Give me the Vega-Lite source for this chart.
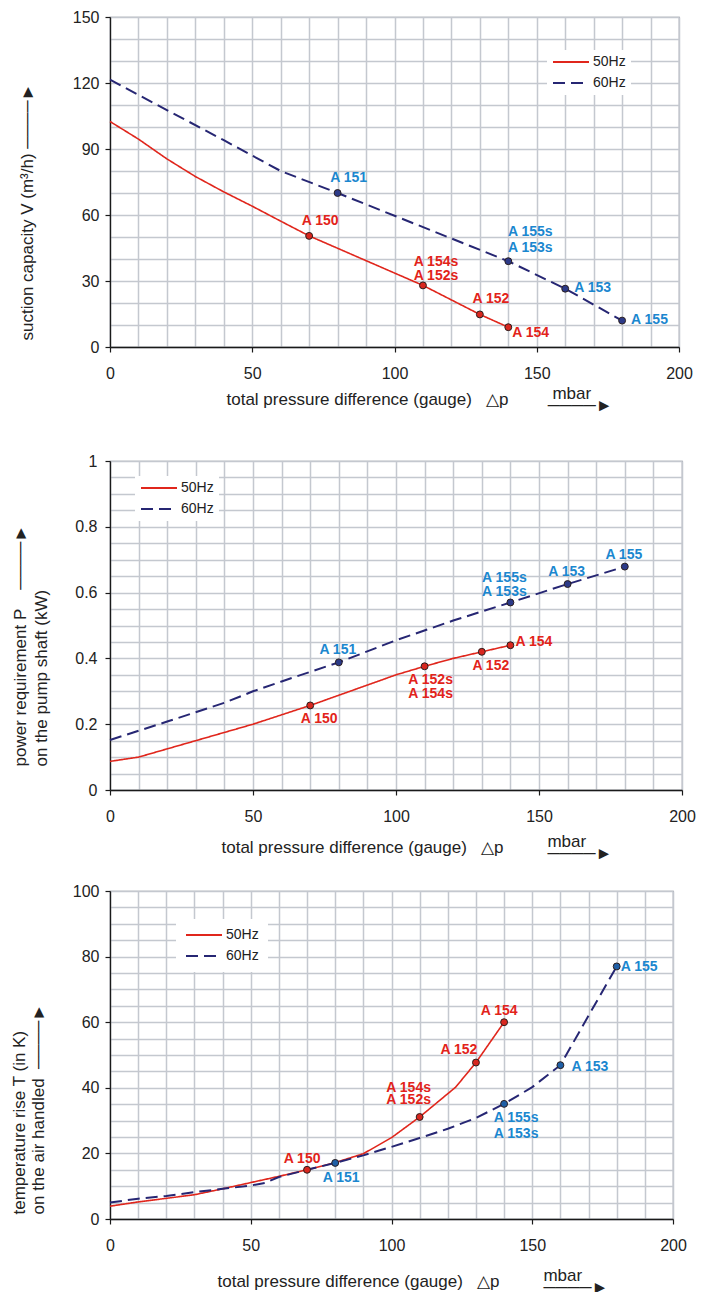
{
  "$schema": "https://vega.github.io/schema/vega-lite/v6.json",
  "padding": {"left": 9, "top": 8, "right": 5, "bottom": 2},
  "spacing": 20,
  "resolve": {
    "scale": {"color": "independent", "strokeDash": "independent"},
    "legend": {"color": "independent", "strokeDash": "independent"}
  },
  "config": {
    "font": "Liberation Sans",
    "view": {"stroke": "#8b9097", "strokeWidth": 1.2},
    "axis": {
      "domainColor": "#1a1a1a", "domainWidth": 1.3, "tickColor": "#1a1a1a", "tickWidth": 1.2, "tickSize": 5,
      "labelFont": "Liberation Sans", "labelFontSize": 16, "labelColor": "#222",
      "titleFont": "Liberation Sans", "titleFontSize": 17, "titleFontWeight": "normal", "titleColor": "#222",
      "gridColor": "#c4c8cf", "gridWidth": 1.5, "labelOverlap": false, "labelFlush": false
    },
    "legend": {"labelFont": "Liberation Sans", "labelFontSize": 14, "labelColor": "#222"}
  },
  "datasets": {
    "cap_lines": [
      {"p": 0, "v": 102.5, "series": "50Hz"}, {"p": 10, "v": 94.5, "series": "50Hz"}, {"p": 20, "v": 85.5, "series": "50Hz"},
      {"p": 30, "v": 77.5, "series": "50Hz"}, {"p": 40, "v": 70.5, "series": "50Hz"}, {"p": 50, "v": 64, "series": "50Hz"},
      {"p": 60, "v": 57.2, "series": "50Hz"}, {"p": 70, "v": 50.5, "series": "50Hz"}, {"p": 110, "v": 28, "series": "50Hz"},
      {"p": 130, "v": 14.8, "series": "50Hz"}, {"p": 140, "v": 9, "series": "50Hz"},
      {"p": 0, "v": 121.5, "series": "60Hz"}, {"p": 20, "v": 107.7, "series": "60Hz"}, {"p": 40, "v": 94, "series": "60Hz"},
      {"p": 60, "v": 80, "series": "60Hz"}, {"p": 80, "v": 70, "series": "60Hz"}, {"p": 140, "v": 39, "series": "60Hz"},
      {"p": 160, "v": 26.5, "series": "60Hz"}, {"p": 180, "v": 12, "series": "60Hz"}
    ],
    "cap_pts": [
      {"p": 70, "v": 50.5, "series": "50Hz", "label": "A 150", "pos": "NE"},
      {"p": 110, "v": 28, "series": "50Hz", "label": "A 154s\nA 152s", "pos": "NE2"},
      {"p": 130, "v": 14.8, "series": "50Hz", "label": "A 152", "pos": "NE"},
      {"p": 140, "v": 9, "series": "50Hz", "label": "A 154", "pos": "SE"},
      {"p": 80, "v": 70, "series": "60Hz", "label": "A 151", "pos": "NE"},
      {"p": 140, "v": 39, "series": "60Hz", "label": "A 155s\nA 153s", "pos": "NE3"},
      {"p": 160, "v": 26.5, "series": "60Hz", "label": "A 153", "pos": "E"},
      {"p": 180, "v": 12, "series": "60Hz", "label": "A 155", "pos": "E"}
    ],
    "pow_lines": [
      {"p": 0, "v": 0.087, "series": "50Hz"}, {"p": 10, "v": 0.1, "series": "50Hz"}, {"p": 30, "v": 0.15, "series": "50Hz"},
      {"p": 50, "v": 0.2, "series": "50Hz"}, {"p": 70, "v": 0.257, "series": "50Hz"}, {"p": 100, "v": 0.35, "series": "50Hz"},
      {"p": 110, "v": 0.376, "series": "50Hz"}, {"p": 120, "v": 0.4, "series": "50Hz"}, {"p": 130, "v": 0.42, "series": "50Hz"},
      {"p": 140, "v": 0.44, "series": "50Hz"},
      {"p": 0, "v": 0.152, "series": "60Hz"}, {"p": 20, "v": 0.208, "series": "60Hz"}, {"p": 40, "v": 0.265, "series": "60Hz"},
      {"p": 50, "v": 0.3, "series": "60Hz"}, {"p": 60, "v": 0.33, "series": "60Hz"}, {"p": 80, "v": 0.388, "series": "60Hz"},
      {"p": 100, "v": 0.455, "series": "60Hz"}, {"p": 120, "v": 0.515, "series": "60Hz"}, {"p": 140, "v": 0.57, "series": "60Hz"},
      {"p": 160, "v": 0.626, "series": "60Hz"}, {"p": 180, "v": 0.679, "series": "60Hz"}
    ],
    "pow_pts": [
      {"p": 70, "v": 0.257, "series": "50Hz", "label": "A 150", "pos": "S"},
      {"p": 110, "v": 0.376, "series": "50Hz", "label": "A 152s\nA 154s", "pos": "S2"},
      {"p": 130, "v": 0.42, "series": "50Hz", "label": "A 152", "pos": "S"},
      {"p": 140, "v": 0.44, "series": "50Hz", "label": "A 154", "pos": "E"},
      {"p": 80, "v": 0.388, "series": "60Hz", "label": "A 151", "pos": "N"},
      {"p": 140, "v": 0.57, "series": "60Hz", "label": "A 155s\nA 153s", "pos": "N2"},
      {"p": 160, "v": 0.626, "series": "60Hz", "label": "A 153", "pos": "N"},
      {"p": 180, "v": 0.679, "series": "60Hz", "label": "A 155", "pos": "N"}
    ],
    "temp_lines": [
      {"p": 0, "v": 3.9, "series": "50Hz"}, {"p": 10, "v": 5.2, "series": "50Hz"}, {"p": 20, "v": 6.3, "series": "50Hz"},
      {"p": 30, "v": 7.4, "series": "50Hz"}, {"p": 40, "v": 9.2, "series": "50Hz"}, {"p": 50, "v": 11.1, "series": "50Hz"},
      {"p": 60, "v": 13, "series": "50Hz"}, {"p": 70, "v": 15, "series": "50Hz"}, {"p": 80, "v": 17.2, "series": "50Hz"},
      {"p": 90, "v": 19.9, "series": "50Hz"}, {"p": 100, "v": 24.8, "series": "50Hz"}, {"p": 110, "v": 31.1, "series": "50Hz"},
      {"p": 122.8, "v": 40.2, "series": "50Hz"}, {"p": 130, "v": 47.7, "series": "50Hz"}, {"p": 140, "v": 60, "series": "50Hz"},
      {"p": 0, "v": 5, "series": "60Hz"}, {"p": 10, "v": 6.2, "series": "60Hz"}, {"p": 20, "v": 7, "series": "60Hz"},
      {"p": 30, "v": 8.2, "series": "60Hz"}, {"p": 40, "v": 9.2, "series": "60Hz"}, {"p": 50, "v": 10.2, "series": "60Hz"},
      {"p": 55, "v": 11, "series": "60Hz"}, {"p": 60, "v": 12.8, "series": "60Hz"}, {"p": 70, "v": 15, "series": "60Hz"},
      {"p": 80, "v": 17.1, "series": "60Hz"}, {"p": 90, "v": 19.4, "series": "60Hz"}, {"p": 100, "v": 22, "series": "60Hz"},
      {"p": 110, "v": 24.7, "series": "60Hz"}, {"p": 120, "v": 27.5, "series": "60Hz"}, {"p": 130, "v": 30.8, "series": "60Hz"},
      {"p": 140, "v": 35.1, "series": "60Hz"}, {"p": 150, "v": 40.2, "series": "60Hz"}, {"p": 160, "v": 46.9, "series": "60Hz"},
      {"p": 170, "v": 62, "series": "60Hz"}, {"p": 180, "v": 77, "series": "60Hz"}
    ],
    "temp_pts": [
      {"p": 70, "v": 15, "series": "50Hz", "label": "A 150", "pos": "N"},
      {"p": 110, "v": 31.1, "series": "50Hz", "label": "A 154s\nA 152s", "pos": "NW2"},
      {"p": 130, "v": 47.7, "series": "50Hz", "label": "A 152", "pos": "NW"},
      {"p": 140, "v": 60, "series": "50Hz", "label": "A 154", "pos": "N"},
      {"p": 80, "v": 17.1, "series": "60Hz", "label": "A 151", "pos": "SE"},
      {"p": 140, "v": 35.1, "series": "60Hz", "label": "A 155s\nA 153s", "pos": "SE2"},
      {"p": 160, "v": 46.9, "series": "60Hz", "label": "A 153", "pos": "E"},
      {"p": 180, "v": 77, "series": "60Hz", "label": "A 155", "pos": "E0"}
    ]
  },
  "vconcat": [
    {
      "width": 569, "height": 330,
      "encoding": {
        "x": {"field": "p", "type": "quantitative", "scale": {"domain": [0, 200], "nice": false},
          "axis": {"values": [0,10,20,30,40,50,60,70,80,90,100,110,120,130,140,150,160,170,180,190,200],
            "labelExpr": "datum.value % 50 === 0 ? datum.label : ''",
            "tickOpacity": {"condition": {"test": "datum.value % 50 === 0", "value": 1}, "value": 0},
            "labelPadding": 13,
            "title": ["\u200b\u00a0\u00a0\u00a0\u00a0\u00a0\u00a0\u00a0\u00a0\u00a0\u00a0\u00a0\u00a0\u00a0\u00a0\u00a0\u00a0\u00a0\u00a0\u00a0\u00a0\u00a0\u00a0\u00a0\u00a0\u00a0\u00a0\u00a0\u00a0\u00a0\u00a0\u00a0\u00a0\u00a0\u00a0\u00a0\u00a0\u00a0\u00a0\u00a0\u00a0\u00a0\u00a0\u00a0\u00a0\u00a0\u00a0\u00a0\u00a0\u00a0\u00a0\u00a0\u00a0\u00a0\u00a0\u00a0\u00a0\u00a0\u00a0\u00a0\u00a0\u00a0\u00a0\u00a0\u00a0\u00a0\u00a0\u00a0\u00a0\u00a0mbar",
                      "total pressure difference (gauge)\u00a0\u00a0\u00a0△p",
                      "\u200b\u00a0\u00a0\u00a0\u00a0\u00a0\u00a0\u00a0\u00a0\u00a0\u00a0\u00a0\u00a0\u00a0\u00a0\u00a0\u00a0\u00a0\u00a0\u00a0\u00a0\u00a0\u00a0\u00a0\u00a0\u00a0\u00a0\u00a0\u00a0\u00a0\u00a0\u00a0\u00a0\u00a0\u00a0\u00a0\u00a0\u00a0\u00a0\u00a0\u00a0\u00a0\u00a0\u00a0\u00a0\u00a0\u00a0\u00a0\u00a0\u00a0\u00a0\u00a0\u00a0\u00a0\u00a0\u00a0\u00a0\u00a0\u00a0\u00a0\u00a0\u00a0\u00a0\u00a0\u00a0\u00a0\u00a0\u00a0\u00a0────►",
                      "\u00a0", "\u00a0", "\u00a0"],
            "titleAlign": "left", "titleBaseline": "top", "titleX": 116, "titleY": 38, "titleLineHeight": 6}},
        "y": {"field": "v", "type": "quantitative", "scale": {"domain": [0, 150], "nice": false},
          "axis": {"values": [0,10,20,30,40,50,60,70,80,90,100,110,120,130,140,150],
            "labelExpr": "datum.value % 30 === 0 ? datum.label : ''",
            "tickOpacity": {"condition": {"test": "datum.value % 30 === 0", "value": 1}, "value": 0},
            "labelPadding": 6,
            "title": "suction capacity V (m³/h) ────►",
            "titleAngle": -90, "titleAlign": "left", "titleBaseline": "middle", "titleX": -83, "titleY": 323}}
      },
      "layer": [
        {"data": {"name": "cap_lines"}, "mark": {"type": "line"},
          "encoding": {
            "color": {"field": "series", "type": "nominal", "scale": {"domain": ["50Hz", "60Hz"], "range": ["#e0261c", "#262673"]},
              "legend": {"title": null, "orient": "none", "legendX": 437, "legendY": 33, "fillColor": "white", "padding": 5,
                "symbolType": "M-1,0H5", "symbolSize": 144, "symbolStrokeWidth": 2, "labelFontSize": 14, "rowPadding": 7, "labelOffset": 27}},
            "strokeDash": {"field": "series", "type": "nominal", "scale": {"domain": ["50Hz", "60Hz"], "range": [[1, 0], [12, 6]]}},
            "strokeWidth": {"condition": {"test": "datum.series === '60Hz'", "value": 2}, "value": 1.6}}},
        {"data": {"name": "cap_pts"}, "mark": {"type": "point", "filled": true, "size": 48, "stroke": "#2a1e1e", "strokeWidth": 1, "opacity": 1},
          "encoding": {"fill": {"condition": {"test": "datum.series === '50Hz'", "value": "#d8271f"}, "value": "#2c3a88"}}},
        {"data": {"name": "cap_pts"}, "transform": [{"filter": "datum.pos === 'NE'"}],
          "mark": {"type": "text", "align": "center", "baseline": "middle", "dx": 11, "dy": -15, "fontSize": 14, "fontWeight": "bold", "lineBreak": "\n", "lineHeight": 15},
          "encoding": {"text": {"field": "label"}, "color": {"condition": {"test": "datum.series === '50Hz'", "value": "#e2231a"}, "value": "#1b87cf"}}},
        {"data": {"name": "cap_pts"}, "transform": [{"filter": "datum.pos === 'NE2'"}],
          "mark": {"type": "text", "align": "center", "baseline": "middle", "dx": 13, "dy": -23, "fontSize": 14, "fontWeight": "bold", "lineBreak": "\n", "lineHeight": 14},
          "encoding": {"text": {"field": "label"}, "color": {"condition": {"test": "datum.series === '50Hz'", "value": "#e2231a"}, "value": "#1b87cf"}}},
        {"data": {"name": "cap_pts"}, "transform": [{"filter": "datum.pos === 'NE3'"}],
          "mark": {"type": "text", "align": "center", "baseline": "middle", "dx": 22, "dy": -29, "fontSize": 14, "fontWeight": "bold", "lineBreak": "\n", "lineHeight": 16},
          "encoding": {"text": {"field": "label"}, "color": {"condition": {"test": "datum.series === '50Hz'", "value": "#e2231a"}, "value": "#1b87cf"}}},
        {"data": {"name": "cap_pts"}, "transform": [{"filter": "datum.pos === 'E'"}],
          "mark": {"type": "text", "align": "left", "baseline": "middle", "dx": 9, "dy": -1, "fontSize": 14, "fontWeight": "bold", "lineBreak": "\n", "lineHeight": 15},
          "encoding": {"text": {"field": "label"}, "color": {"condition": {"test": "datum.series === '50Hz'", "value": "#e2231a"}, "value": "#1b87cf"}}},
        {"data": {"name": "cap_pts"}, "transform": [{"filter": "datum.pos === 'SE'"}],
          "mark": {"type": "text", "align": "left", "baseline": "middle", "dx": 4, "dy": 6, "fontSize": 14, "fontWeight": "bold", "lineBreak": "\n", "lineHeight": 15},
          "encoding": {"text": {"field": "label"}, "color": {"condition": {"test": "datum.series === '50Hz'", "value": "#e2231a"}, "value": "#1b87cf"}}}
      ]
    },
    {
      "width": 572, "height": 329,
      "encoding": {
        "x": {"field": "p", "type": "quantitative", "scale": {"domain": [0, 200], "nice": false},
          "axis": {"values": [0,10,20,30,40,50,60,70,80,90,100,110,120,130,140,150,160,170,180,190,200],
            "labelExpr": "datum.value % 50 === 0 ? datum.label : ''",
            "tickOpacity": {"condition": {"test": "datum.value % 50 === 0", "value": 1}, "value": 0},
            "labelPadding": 13,
            "title": ["\u200b\u00a0\u00a0\u00a0\u00a0\u00a0\u00a0\u00a0\u00a0\u00a0\u00a0\u00a0\u00a0\u00a0\u00a0\u00a0\u00a0\u00a0\u00a0\u00a0\u00a0\u00a0\u00a0\u00a0\u00a0\u00a0\u00a0\u00a0\u00a0\u00a0\u00a0\u00a0\u00a0\u00a0\u00a0\u00a0\u00a0\u00a0\u00a0\u00a0\u00a0\u00a0\u00a0\u00a0\u00a0\u00a0\u00a0\u00a0\u00a0\u00a0\u00a0\u00a0\u00a0\u00a0\u00a0\u00a0\u00a0\u00a0\u00a0\u00a0\u00a0\u00a0\u00a0\u00a0\u00a0\u00a0\u00a0\u00a0\u00a0\u00a0mbar",
                      "total pressure difference (gauge)\u00a0\u00a0\u00a0△p",
                      "\u200b\u00a0\u00a0\u00a0\u00a0\u00a0\u00a0\u00a0\u00a0\u00a0\u00a0\u00a0\u00a0\u00a0\u00a0\u00a0\u00a0\u00a0\u00a0\u00a0\u00a0\u00a0\u00a0\u00a0\u00a0\u00a0\u00a0\u00a0\u00a0\u00a0\u00a0\u00a0\u00a0\u00a0\u00a0\u00a0\u00a0\u00a0\u00a0\u00a0\u00a0\u00a0\u00a0\u00a0\u00a0\u00a0\u00a0\u00a0\u00a0\u00a0\u00a0\u00a0\u00a0\u00a0\u00a0\u00a0\u00a0\u00a0\u00a0\u00a0\u00a0\u00a0\u00a0\u00a0\u00a0\u00a0\u00a0\u00a0\u00a0\u00a0────►"],
            "titleAlign": "left", "titleBaseline": "top", "titleX": 111, "titleY": 43, "titleLineHeight": 6}},
        "y": {"field": "v", "type": "quantitative", "scale": {"domain": [0, 1], "nice": false},
          "axis": {"values": [0,0.05,0.1,0.15,0.2,0.25,0.3,0.35,0.4,0.45,0.5,0.55,0.6,0.65,0.7,0.75,0.8,0.85,0.9,0.95,1],
            "labelExpr": "round(datum.value*100) % 20 === 0 ? format(datum.value, '.1~f') : ''",
            "tickOpacity": {"condition": {"test": "round(datum.value*100) % 20 === 0", "value": 1}, "value": 0},
            "labelPadding": 8,
            "title": ["power requirement P\u00a0\u00a0\u00a0\u00a0────►", "on the pump shaft (kW)"],
            "titleAngle": -90, "titleAlign": "left", "titleBaseline": "middle", "titleX": -90, "titleY": 305, "titleLineHeight": 21}}
      },
      "layer": [
        {"data": {"name": "pow_lines"}, "mark": {"type": "line"},
          "encoding": {
            "color": {"field": "series", "type": "nominal", "scale": {"domain": ["50Hz", "60Hz"], "range": ["#e0261c", "#262673"]},
              "legend": {"title": null, "orient": "none", "legendX": 25, "legendY": 15, "fillColor": "white", "padding": 5,
                "symbolType": "M-1,0H5", "symbolSize": 144, "symbolStrokeWidth": 2, "labelFontSize": 14, "rowPadding": 7, "labelOffset": 27}},
            "strokeDash": {"field": "series", "type": "nominal", "scale": {"domain": ["50Hz", "60Hz"], "range": [[1, 0], [12, 6]]}},
            "strokeWidth": {"condition": {"test": "datum.series === '60Hz'", "value": 2}, "value": 1.6}}},
        {"data": {"name": "pow_pts"}, "mark": {"type": "point", "filled": true, "size": 48, "stroke": "#2a1e1e", "strokeWidth": 1, "opacity": 1},
          "encoding": {"fill": {"condition": {"test": "datum.series === '50Hz'", "value": "#d8271f"}, "value": "#2c3a88"}}},
        {"data": {"name": "pow_pts"}, "transform": [{"filter": "datum.pos === 'N'"}],
          "mark": {"type": "text", "align": "center", "baseline": "middle", "dx": -1, "dy": -12, "fontSize": 14, "fontWeight": "bold", "lineBreak": "\n", "lineHeight": 15},
          "encoding": {"text": {"field": "label"}, "color": {"condition": {"test": "datum.series === '50Hz'", "value": "#e2231a"}, "value": "#1b87cf"}}},
        {"data": {"name": "pow_pts"}, "transform": [{"filter": "datum.pos === 'N2'"}],
          "mark": {"type": "text", "align": "center", "baseline": "middle", "dx": -6, "dy": -24, "fontSize": 14, "fontWeight": "bold", "lineBreak": "\n", "lineHeight": 14},
          "encoding": {"text": {"field": "label"}, "color": {"condition": {"test": "datum.series === '50Hz'", "value": "#e2231a"}, "value": "#1b87cf"}}},
        {"data": {"name": "pow_pts"}, "transform": [{"filter": "datum.pos === 'S'"}],
          "mark": {"type": "text", "align": "center", "baseline": "middle", "dx": 9, "dy": 14, "fontSize": 14, "fontWeight": "bold", "lineBreak": "\n", "lineHeight": 15},
          "encoding": {"text": {"field": "label"}, "color": {"condition": {"test": "datum.series === '50Hz'", "value": "#e2231a"}, "value": "#1b87cf"}}},
        {"data": {"name": "pow_pts"}, "transform": [{"filter": "datum.pos === 'S2'"}],
          "mark": {"type": "text", "align": "center", "baseline": "middle", "dx": 6, "dy": 14, "fontSize": 14, "fontWeight": "bold", "lineBreak": "\n", "lineHeight": 14},
          "encoding": {"text": {"field": "label"}, "color": {"condition": {"test": "datum.series === '50Hz'", "value": "#e2231a"}, "value": "#1b87cf"}}},
        {"data": {"name": "pow_pts"}, "transform": [{"filter": "datum.pos === 'E'"}],
          "mark": {"type": "text", "align": "left", "baseline": "middle", "dx": 5, "dy": -3, "fontSize": 14, "fontWeight": "bold", "lineBreak": "\n", "lineHeight": 15},
          "encoding": {"text": {"field": "label"}, "color": {"condition": {"test": "datum.series === '50Hz'", "value": "#e2231a"}, "value": "#1b87cf"}}}
      ]
    },
    {
      "width": 563, "height": 328,
      "encoding": {
        "x": {"field": "p", "type": "quantitative", "scale": {"domain": [0, 200], "nice": false},
          "axis": {"values": [0,10,20,30,40,50,60,70,80,90,100,110,120,130,140,150,160,170,180,190,200],
            "labelExpr": "datum.value % 50 === 0 ? datum.label : ''",
            "tickOpacity": {"condition": {"test": "datum.value % 50 === 0", "value": 1}, "value": 0},
            "labelPadding": 13,
            "title": ["\u200b\u00a0\u00a0\u00a0\u00a0\u00a0\u00a0\u00a0\u00a0\u00a0\u00a0\u00a0\u00a0\u00a0\u00a0\u00a0\u00a0\u00a0\u00a0\u00a0\u00a0\u00a0\u00a0\u00a0\u00a0\u00a0\u00a0\u00a0\u00a0\u00a0\u00a0\u00a0\u00a0\u00a0\u00a0\u00a0\u00a0\u00a0\u00a0\u00a0\u00a0\u00a0\u00a0\u00a0\u00a0\u00a0\u00a0\u00a0\u00a0\u00a0\u00a0\u00a0\u00a0\u00a0\u00a0\u00a0\u00a0\u00a0\u00a0\u00a0\u00a0\u00a0\u00a0\u00a0\u00a0\u00a0\u00a0\u00a0\u00a0\u00a0mbar",
                      "total pressure difference (gauge)\u00a0\u00a0\u00a0△p",
                      "\u200b\u00a0\u00a0\u00a0\u00a0\u00a0\u00a0\u00a0\u00a0\u00a0\u00a0\u00a0\u00a0\u00a0\u00a0\u00a0\u00a0\u00a0\u00a0\u00a0\u00a0\u00a0\u00a0\u00a0\u00a0\u00a0\u00a0\u00a0\u00a0\u00a0\u00a0\u00a0\u00a0\u00a0\u00a0\u00a0\u00a0\u00a0\u00a0\u00a0\u00a0\u00a0\u00a0\u00a0\u00a0\u00a0\u00a0\u00a0\u00a0\u00a0\u00a0\u00a0\u00a0\u00a0\u00a0\u00a0\u00a0\u00a0\u00a0\u00a0\u00a0\u00a0\u00a0\u00a0\u00a0\u00a0\u00a0\u00a0\u00a0\u00a0────►"],
            "titleAlign": "left", "titleBaseline": "top", "titleX": 107, "titleY": 48, "titleLineHeight": 6}},
        "y": {"field": "v", "type": "quantitative", "scale": {"domain": [0, 100], "nice": false},
          "axis": {"values": [0,5,10,15,20,25,30,35,40,45,50,55,60,65,70,75,80,85,90,95,100],
            "labelExpr": "datum.value % 20 === 0 ? datum.label : ''",
            "tickOpacity": {"condition": {"test": "datum.value % 20 === 0", "value": 1}, "value": 0},
            "labelPadding": 6,
            "title": ["temperature rise T (in K)", "on the air handled\u00a0\u00a0────►"],
            "titleAngle": -90, "titleAlign": "left", "titleBaseline": "middle", "titleX": -91, "titleY": 323, "titleLineHeight": 19}}
      },
      "layer": [
        {"data": {"name": "temp_lines"}, "mark": {"type": "line"},
          "encoding": {
            "color": {"field": "series", "type": "nominal", "scale": {"domain": ["50Hz", "60Hz"], "range": ["#e0261c", "#262673"]},
              "legend": {"title": null, "orient": "none", "legendX": 66, "legendY": 28, "fillColor": "white", "padding": 9,
                "symbolType": "M-1,0H5", "symbolSize": 144, "symbolStrokeWidth": 2, "labelFontSize": 14, "rowPadding": 7, "labelOffset": 27}},
            "strokeDash": {"field": "series", "type": "nominal", "scale": {"domain": ["50Hz", "60Hz"], "range": [[1, 0], [12, 6]]}},
            "strokeWidth": {"condition": {"test": "datum.series === '60Hz'", "value": 2}, "value": 1.6}}},
        {"data": {"name": "temp_pts"}, "mark": {"type": "point", "filled": true, "size": 48, "stroke": "#2a1e1e", "strokeWidth": 1, "opacity": 1},
          "encoding": {"fill": {"condition": {"test": "datum.series === '50Hz'", "value": "#d8271f"}, "value": "#1f5fa6"}}},
        {"data": {"name": "temp_pts"}, "transform": [{"filter": "datum.pos === 'N'"}],
          "mark": {"type": "text", "align": "center", "baseline": "middle", "dx": -5, "dy": -11, "fontSize": 14, "fontWeight": "bold", "lineBreak": "\n", "lineHeight": 15},
          "encoding": {"text": {"field": "label"}, "color": {"condition": {"test": "datum.series === '50Hz'", "value": "#e2231a"}, "value": "#1b87cf"}}},
        {"data": {"name": "temp_pts"}, "transform": [{"filter": "datum.pos === 'NW'"}],
          "mark": {"type": "text", "align": "center", "baseline": "middle", "dx": -17, "dy": -13, "fontSize": 14, "fontWeight": "bold", "lineBreak": "\n", "lineHeight": 15},
          "encoding": {"text": {"field": "label"}, "color": {"condition": {"test": "datum.series === '50Hz'", "value": "#e2231a"}, "value": "#1b87cf"}}},
        {"data": {"name": "temp_pts"}, "transform": [{"filter": "datum.pos === 'NW2'"}],
          "mark": {"type": "text", "align": "center", "baseline": "middle", "dx": -11, "dy": -29, "fontSize": 14, "fontWeight": "bold", "lineBreak": "\n", "lineHeight": 12},
          "encoding": {"text": {"field": "label"}, "color": {"condition": {"test": "datum.series === '50Hz'", "value": "#e2231a"}, "value": "#1b87cf"}}},
        {"data": {"name": "temp_pts"}, "transform": [{"filter": "datum.pos === 'SE'"}],
          "mark": {"type": "text", "align": "center", "baseline": "middle", "dx": 6, "dy": 15, "fontSize": 14, "fontWeight": "bold", "lineBreak": "\n", "lineHeight": 15},
          "encoding": {"text": {"field": "label"}, "color": {"condition": {"test": "datum.series === '50Hz'", "value": "#e2231a"}, "value": "#1b87cf"}}},
        {"data": {"name": "temp_pts"}, "transform": [{"filter": "datum.pos === 'SE2'"}],
          "mark": {"type": "text", "align": "center", "baseline": "middle", "dx": 12, "dy": 14, "fontSize": 14, "fontWeight": "bold", "lineBreak": "\n", "lineHeight": 16},
          "encoding": {"text": {"field": "label"}, "color": {"condition": {"test": "datum.series === '50Hz'", "value": "#e2231a"}, "value": "#1b87cf"}}},
        {"data": {"name": "temp_pts"}, "transform": [{"filter": "datum.pos === 'E'"}],
          "mark": {"type": "text", "align": "left", "baseline": "middle", "dx": 11, "dy": 2, "fontSize": 14, "fontWeight": "bold", "lineBreak": "\n", "lineHeight": 15},
          "encoding": {"text": {"field": "label"}, "color": {"condition": {"test": "datum.series === '50Hz'", "value": "#e2231a"}, "value": "#1b87cf"}}},
        {"data": {"name": "temp_pts"}, "transform": [{"filter": "datum.pos === 'E0'"}],
          "mark": {"type": "text", "align": "left", "baseline": "middle", "dx": 4, "dy": 1, "fontSize": 14, "fontWeight": "bold", "lineBreak": "\n", "lineHeight": 15},
          "encoding": {"text": {"field": "label"}, "color": {"condition": {"test": "datum.series === '50Hz'", "value": "#e2231a"}, "value": "#1b87cf"}}}
      ]
    }
  ]
}
